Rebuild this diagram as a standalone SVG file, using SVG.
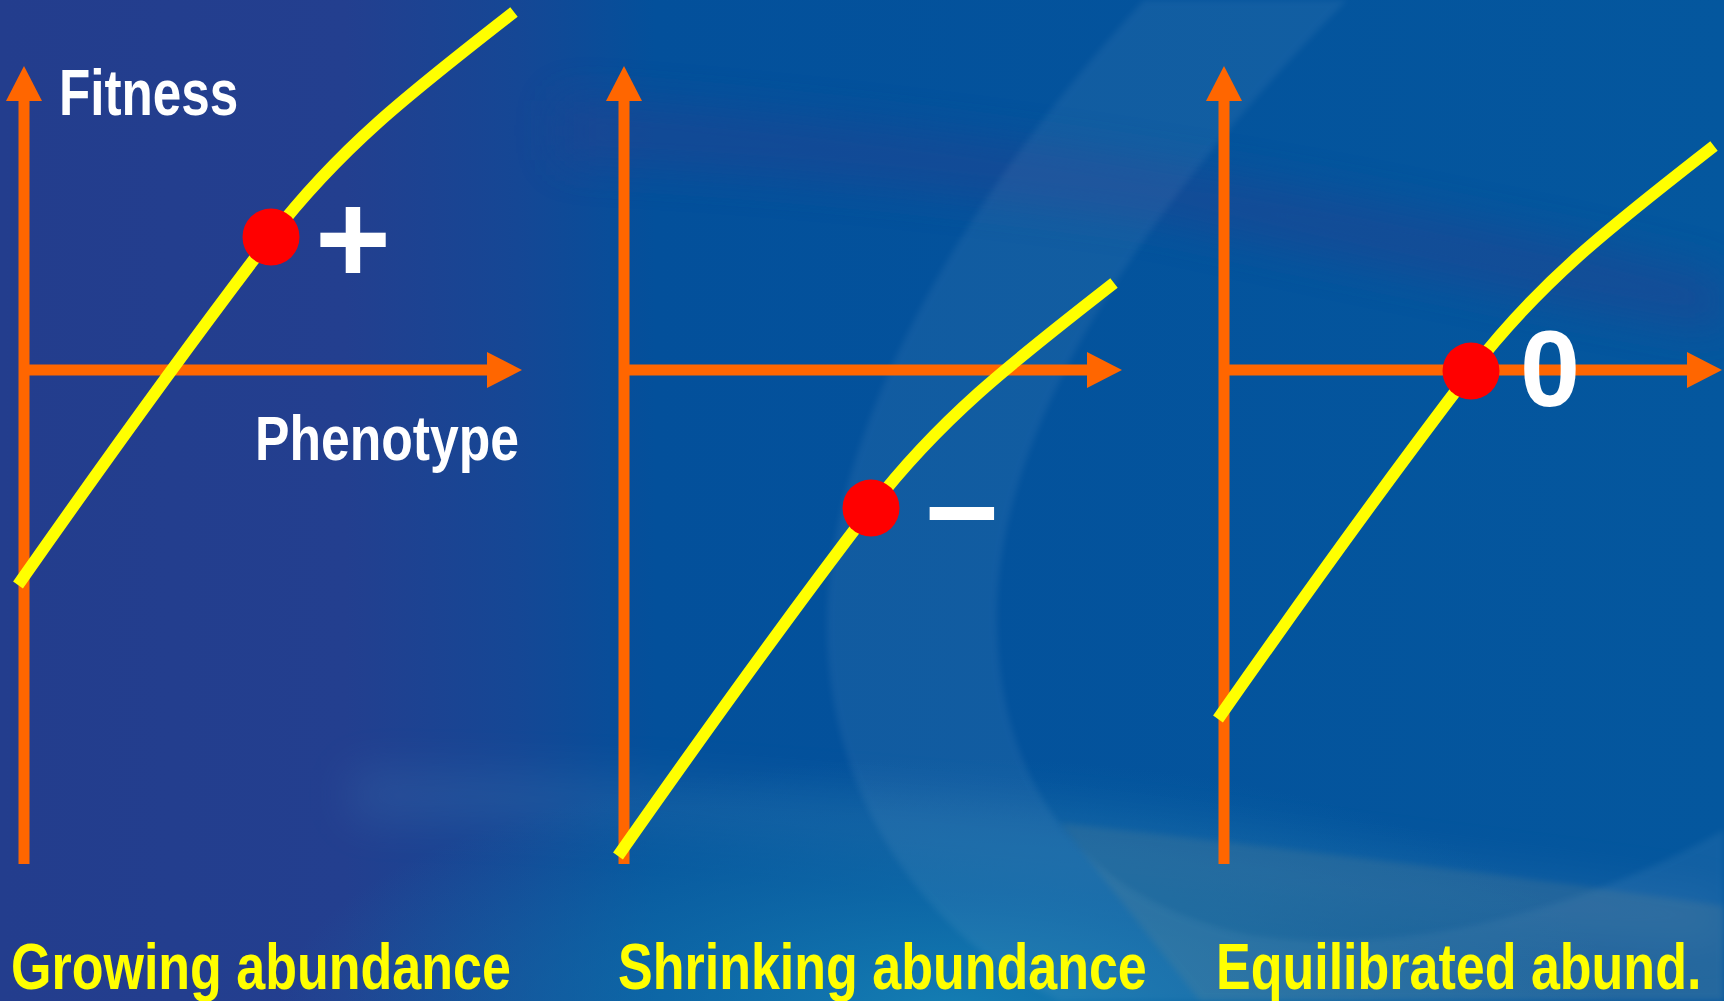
<svg xmlns="http://www.w3.org/2000/svg" width="1724" height="1001" viewBox="0 0 1724 1001">
<defs>
  <linearGradient id="bg" x1="0" y1="0" x2="1724" y2="0" gradientUnits="userSpaceOnUse">
    <stop offset="0" stop-color="#233D8D"/>
    <stop offset="0.2" stop-color="#233F8F"/>
    <stop offset="0.3" stop-color="#154795"/>
    <stop offset="0.38" stop-color="#03509B"/>
    <stop offset="1" stop-color="#04579E"/>
  </linearGradient>
  <radialGradient id="glow" cx="950" cy="1010" r="420" gradientUnits="userSpaceOnUse" gradientTransform="translate(950 1010) scale(1.6 0.6) translate(-950 -1010)">
    <stop offset="0" stop-color="#1580B4" stop-opacity="0.95"/>
    <stop offset="0.6" stop-color="#1270AA" stop-opacity="0.5"/>
    <stop offset="1" stop-color="#1270AA" stop-opacity="0"/>
  </radialGradient>
  <filter id="soft" x="-20%" y="-50%" width="140%" height="200%">
    <feGaussianBlur stdDeviation="22"/>
  </filter>
  <filter id="soft2" x="-5%" y="-5%" width="110%" height="110%">
    <feGaussianBlur stdDeviation="3"/>
  </filter>
  <marker id="arr" viewBox="0 -18 35 36" refX="0" refY="0" markerWidth="35" markerHeight="36" markerUnits="userSpaceOnUse" orient="auto">
    <path d="M0,-18 L35,0 L0,18 Z" fill="#FF6600"/>
  </marker>
  <path id="curve" d="M18,585 C100,468 200,330 271,237 C341,146 414,90 514,12"/>
</defs>
<style>
  .axis { stroke: #FF6600; stroke-width: 11; fill: none; marker-end: url(#arr); }
  .fit { stroke: #FFFF00; stroke-width: 12; fill: none; stroke-linecap: butt; }
  .dot { fill: #FF0000; }
  .lbl { font-family: "Liberation Sans", Arial, sans-serif; font-weight: bold; fill: #FFFFFF; }
  .cap { font-family: "Liberation Sans", Arial, sans-serif; font-weight: bold; fill: #FFFF00; font-size: 65px; }
  .sign { font-family: "Liberation Sans", Arial, sans-serif; font-weight: bold; fill: #FFFFFF; text-anchor: middle; }
</style>

<g id="background">
  <rect x="0" y="0" width="1724" height="1001" fill="url(#bg)"/>
  <path d="M560,100 C800,115 1100,150 1400,210 C1550,240 1650,260 1724,280 L1724,330 C1600,310 1400,270 1150,215 C900,180 700,165 560,160 Z" fill="#2A3F8E" opacity="0.45" filter="url(#soft)"/>
  <path d="M350,770 C600,770 900,790 1200,830 C1450,865 1600,880 1724,900 L1724,940 C1500,930 1200,900 900,860 C650,830 500,820 350,820 Z" fill="#4C86B8" opacity="0.2" filter="url(#soft)"/>
  <rect x="0" y="560" width="1724" height="441" fill="url(#glow)"/>
  <path d="M1144,0 C960,200 830,430 827,620 C825,800 930,940 1060,1001 L1724,1001 L1724,830 C1600,900 1420,960 1250,935 C1080,900 995,780 997,610 C1000,420 1150,200 1347,0 Z" fill="#FFFFFF" opacity="0.055" filter="url(#soft2)"/>
  <path d="M1060,823 C1300,850 1550,880 1724,906 L1724,1001 L1200,1001 Z" fill="#7A8C8A" opacity="0.18" filter="url(#soft2)"/>
</g>

<g id="connectors">
  <line class="axis" x1="24" y1="864" x2="24" y2="101"/>
  <line class="axis" x1="19" y1="370" x2="487" y2="370"/>
  <line class="axis" x1="624" y1="864" x2="624" y2="101"/>
  <line class="axis" x1="619" y1="370" x2="1087" y2="370"/>
  <line class="axis" x1="1224" y1="864" x2="1224" y2="101"/>
  <line class="axis" x1="1219" y1="370" x2="1687" y2="370"/>
</g>

<g id="panel-growing">
  <use href="#curve" class="fit"/>
  <circle class="dot" cx="271" cy="237" r="28.5"/>
  <text class="sign" x="353" y="283" font-size="130">+</text>
  <text class="lbl" font-size="64" transform="translate(59 115) scale(0.8 1)">Fitness</text>
  <text class="lbl" font-size="63" transform="translate(255 460) scale(0.82 1)">Phenotype</text>
  <text class="cap" transform="translate(11 989) scale(0.8 1)">Growing abundance</text>
</g>

<g id="panel-shrinking">
  <use href="#curve" class="fit" transform="translate(600 271)"/>
  <circle class="dot" cx="871" cy="508" r="28.5"/>
  <text class="sign" x="962" y="548" font-size="130">–</text>
  <text class="cap" transform="translate(618 989) scale(0.8 1)">Shrinking abundance</text>
</g>

<g id="panel-equilibrated">
  <use href="#curve" class="fit" transform="translate(1200 134)"/>
  <circle class="dot" cx="1471" cy="371" r="28.5"/>
  <text class="sign" x="1550" y="406" font-size="108">0</text>
  <text class="cap" transform="translate(1216 989) scale(0.8 1)">Equilibrated abund.</text>
</g>
</svg>
